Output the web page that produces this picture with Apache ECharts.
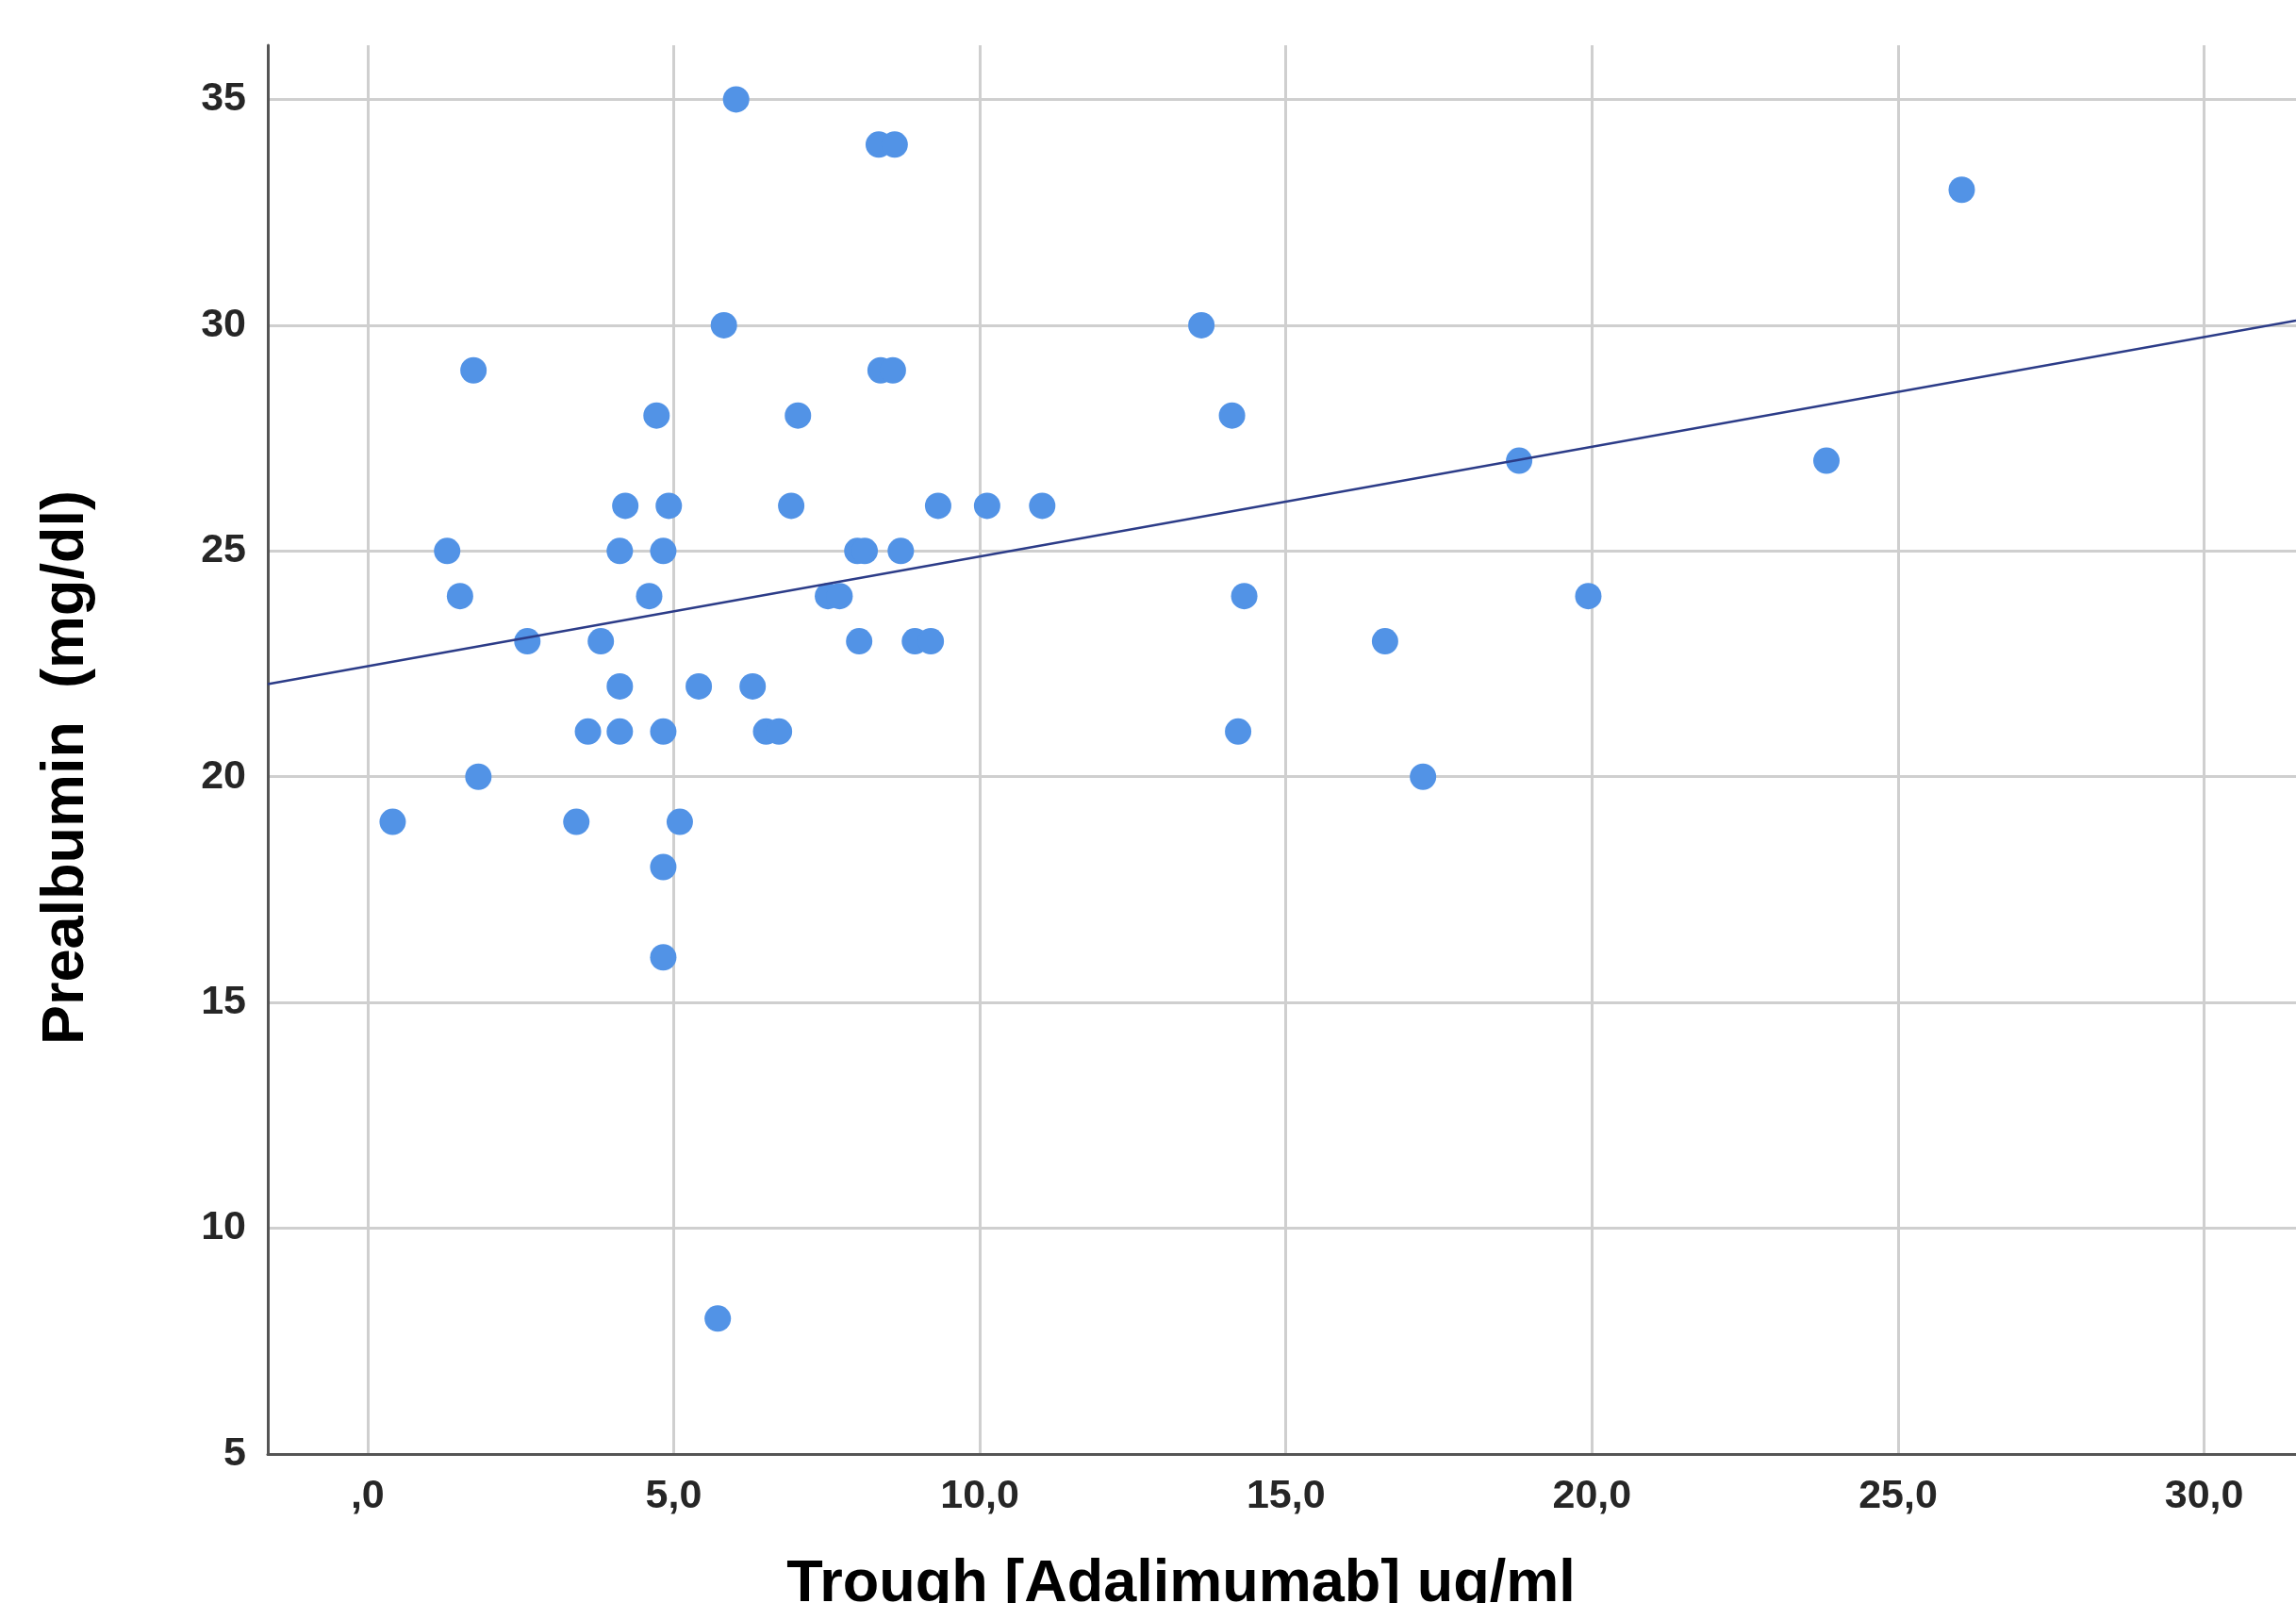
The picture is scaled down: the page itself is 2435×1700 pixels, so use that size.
<!DOCTYPE html>
<html>
<head>
<meta charset="utf-8">
<script src="https://cdn.jsdelivr.net/npm/echarts@6/dist/echarts.min.js"></script>
<style>
  html, body { margin: 0; padding: 0; background: #fff; }
  #main { width: 2435px; height: 1700px; }
</style>
</head>
<body>
<div id="main"></div>
<script>
// trough adalimumab (ug/ml) for each patient
var troughValues = [
  0.41, 1.30, 1.51, 1.73, 1.81, 2.61, 3.41, 3.60, 3.81, 4.12,
  4.12, 4.12, 4.21, 4.60, 4.72, 4.83, 4.83, 4.83, 4.83, 4.92,
  5.10, 5.41, 5.72, 5.82, 6.02, 6.29, 6.51, 6.72, 6.92, 7.03,
  7.52, 7.71, 8.00, 8.12, 8.03, 8.35, 8.61, 8.38, 8.58, 8.71,
  8.94, 9.20, 9.32, 10.12, 11.02, 13.62, 14.12, 14.22, 14.32, 16.62,
  17.24, 18.81, 19.94, 23.83, 26.04
];
// prealbumin (mg/dl), same order
var prealbuminValues = [
  19, 25, 24, 29, 20, 23, 19, 21, 23, 22,
  21, 25, 26, 24, 28, 25, 21, 18, 16, 26,
  19, 22, 8, 30, 35, 22, 21, 21, 26, 28,
  24, 24, 25, 25, 23, 34, 34, 29, 29, 25,
  23, 23, 26, 26, 26, 30, 28, 21, 24, 23,
  20, 27, 24, 27, 33
];
// fit line ends (at the left and right edge of the plot)
var fitX = [-1.63, 31.5];
var fitY = [22.05, 30.1];

var xTicks = [0, 5, 10, 15, 20, 25, 30];
var xTickLabels = [',0', '5,0', '10,0', '15,0', '20,0', '25,0', '30,0'];

var points = troughValues.map(function (v, i) { return [v, prealbuminValues[i]]; });
var fitLine = fitX.map(function (v, i) { return [v, fitY[i]]; });

var labelFont = 'Liberation Sans, Arial, sans-serif';

var myChart = echarts.init(document.getElementById('main'));
myChart.setOption({
  backgroundColor: '#ffffff',
  animation: false,
  grid: { left: 284, right: 0, top: 48, bottom: 158, containLabel: false, outerBoundsMode: 'none' },
  xAxis: {
    type: 'value',
    min: -1.63,
    max: 31.5,
    name: 'Trough [Adalimumab] ug/ml',
    nameLocation: 'middle',
    nameGap: 107,
    nameTextStyle: { fontFamily: labelFont, fontWeight: 'bold', fontSize: 63, color: '#000', padding: [0, 214, 0, 0] },
    axisLine: { show: true, onZero: false, lineStyle: { color: '#555', width: 3 } },
    axisTick: { show: false },
    splitLine: { show: true, showMinLine: false, showMaxLine: false, lineStyle: { color: '#cfcfcf', width: 3 } },
    axisLabel: {
      showMinLabel: false, showMaxLabel: false,
      margin: 24,
      fontFamily: labelFont, fontWeight: 'bold', fontSize: 43, color: '#262626',
      formatter: function (v) {
        var k = xTicks.indexOf(Math.round(v * 100) / 100);
        return k < 0 ? '' : xTickLabels[k];
      }
    }
  },
  yAxis: {
    type: 'value',
    min: 5,
    max: 36.2,
    interval: 5,
    name: 'Prealbumin  (mg/dl)',
    nameLocation: 'middle',
    nameRotate: 90,
    nameGap: 182,
    nameTextStyle: { fontFamily: labelFont, fontWeight: 'bold', fontSize: 63, color: '#000', padding: [0, 38, 0, 0] },
    axisLine: { show: true, onZero: false, lineStyle: { color: '#555', width: 3 } },
    axisTick: { show: false },
    splitLine: { show: true, showMinLine: false, showMaxLine: false, lineStyle: { color: '#cfcfcf', width: 3 } },
    axisLabel: {
      showMaxLabel: false,
      margin: 23,
      fontFamily: labelFont, fontWeight: 'bold', fontSize: 43, color: '#262626'
    }
  },
  series: [
    {
      type: 'scatter',
      data: points,
      symbolSize: 28,
      itemStyle: { color: '#5293e6', opacity: 1 },
      z: 2
    },
    {
      type: 'line',
      data: fitLine,
      symbol: 'none',
      lineStyle: { color: '#2c3c88', width: 2.5 },
      z: 3
    }
  ]
});
</script>
</body>
</html>
